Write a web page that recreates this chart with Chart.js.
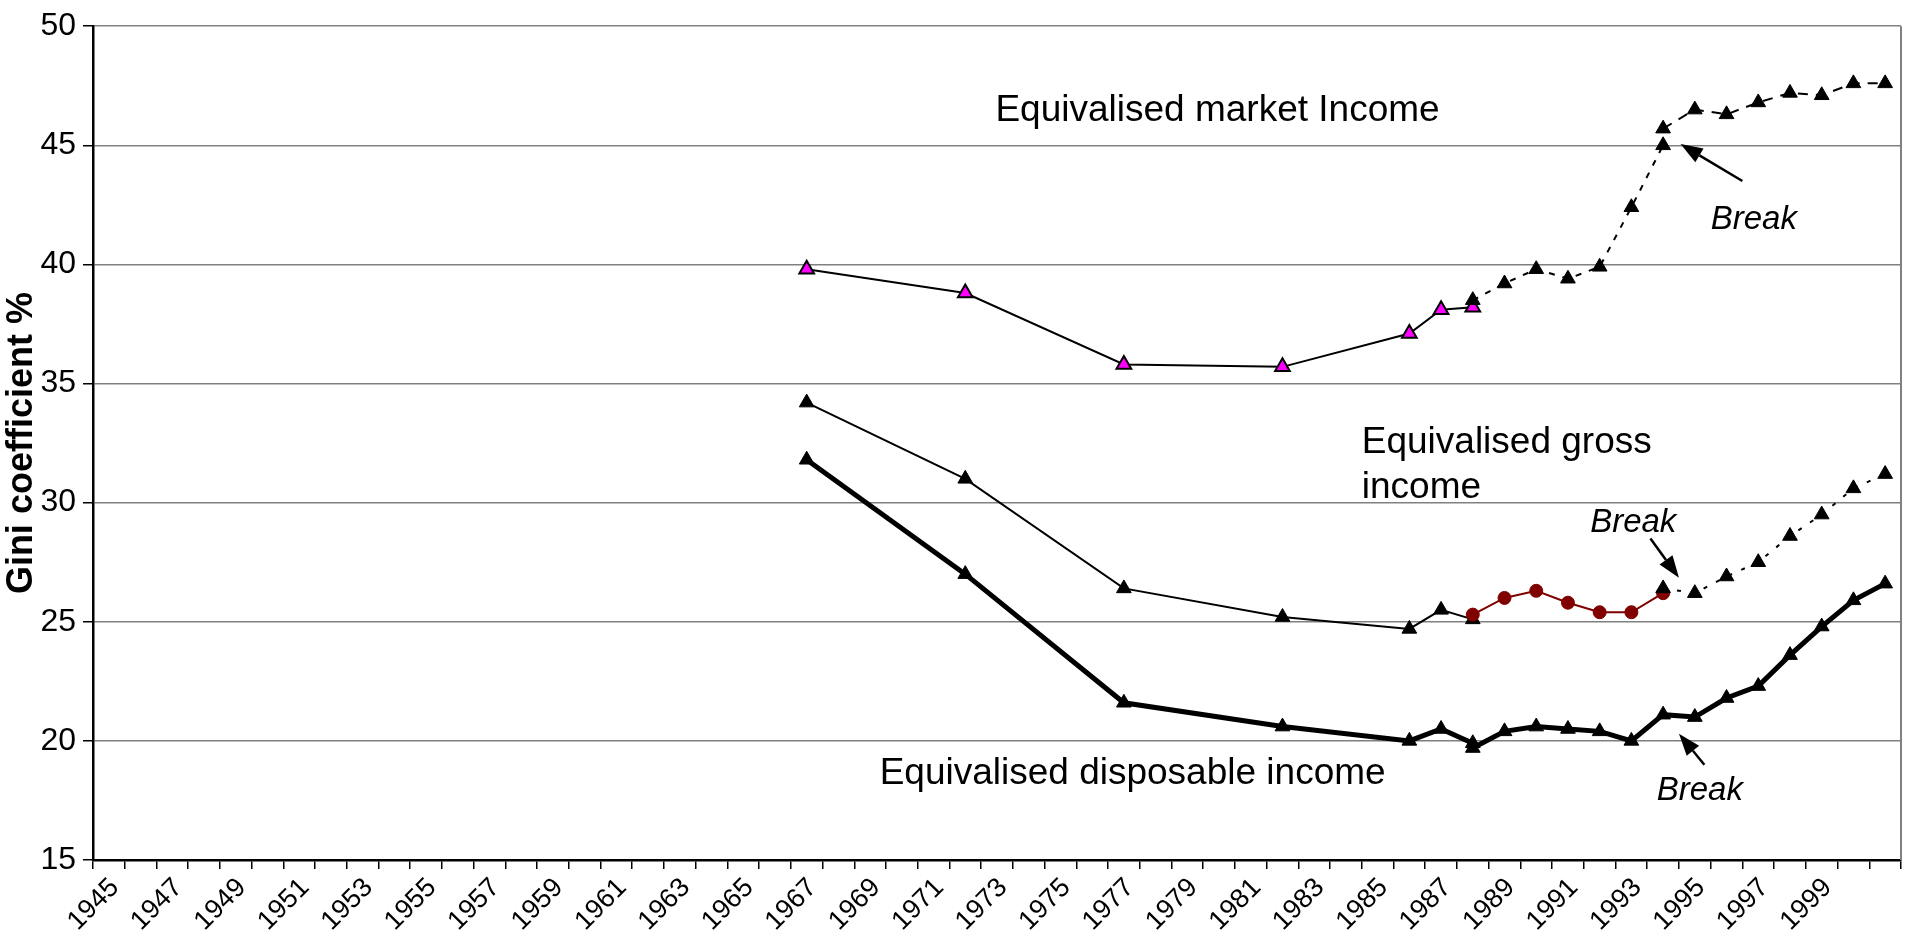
<!DOCTYPE html>
<html>
<head>
<meta charset="utf-8">
<script src="https://cdn.jsdelivr.net/npm/chart.js@4.4.1/dist/chart.umd.min.js"></script>
<style>
  html, body { margin: 0; padding: 0; background: #ffffff; }
  #wrap { width: 1912px; height: 936px; }
</style>
</head>
<body>
<div id="wrap"><canvas id="c" width="1912" height="936"></canvas></div>
<script>
// ---------------- DATA ----------------
const years = ['1945','1946','1947','1948','1949','1950','1951','1952','1953','1954','1955','1956','1957','1958','1959','1960','1961','1962','1963','1964','1965','1966','1967','1968','1969','1970','1971','1972','1973','1974','1975','1976','1977','1978','1979','1980','1981','1982','1983','1984','1985','1986','1987','1988','1989','1990','1991','1992','1993','1994','1995','1996','1997','1998','1999','2000','2001'];
const xTickLabels = ['1945','1947','1949','1951','1953','1955','1957','1959','1961','1963','1965','1967','1969','1971','1973','1975','1977','1979','1981','1983','1985','1987','1989','1991','1993','1995','1997','1999'];
const yTicks = [15, 20, 25, 30, 35, 40, 45, 50];

// Equivalised market income
const marketSurveyYears  = [1967, 1972, 1977, 1982, 1986, 1987, 1988];
const marketSurveyValues = [39.8, 38.8, 35.8, 35.7, 37.1, 38.1, 38.2];
const marketMidYears     = [1988, 1989, 1990, 1991, 1992, 1993, 1994];
const marketMidValues    = [38.5, 39.2, 39.8, 39.4, 39.9, 42.4, 45.0];
const marketLateYears    = [1994, 1995, 1996, 1997, 1998, 1999, 2000, 2001];
const marketLateValues   = [45.7, 46.5, 46.3, 46.8, 47.2, 47.1, 47.6, 47.6];

// Equivalised gross income
const grossSurveyYears  = [1967, 1972, 1977, 1982, 1986, 1987, 1988];
const grossSurveyValues = [34.2, 31.0, 26.4, 25.2, 24.7, 25.5, 25.1];
const grossMidYears     = [1988, 1989, 1990, 1991, 1992, 1993, 1994];
const grossMidValues    = [25.3, 26.0, 26.3, 25.8, 25.4, 25.4, 26.2];
const grossLateYears    = [1994, 1995, 1996, 1997, 1998, 1999, 2000, 2001];
const grossLateValues   = [26.4, 26.2, 26.9, 27.5, 28.6, 29.5, 30.6, 31.2];

// Equivalised disposable income
const dispSurveyYears  = [1967, 1972, 1977, 1982, 1986, 1987, 1988];
const dispSurveyValues = [31.8, 27.0, 21.6, 20.6, 20.0, 20.5, 19.9];
const dispLateYears    = [1988, 1989, 1990, 1991, 1992, 1993, 1994, 1995, 1996, 1997, 1998, 1999, 2000, 2001];
const dispLateValues   = [19.7, 20.4, 20.6, 20.5, 20.4, 20.0, 21.1, 21.0, 21.8, 22.3, 23.6, 24.8, 25.9, 26.6];

const seriesLabels = ['Equivalised market Income', 'Equivalised gross', 'income', 'Equivalised disposable income', 'Break'];
const yAxisTitle = 'Gini coefficient %';

// ---------------- CHART ----------------
function pts(ys, vs) { return ys.map((y, i) => ({ x: String(y), y: vs[i] })); }

const FONT = "'Liberation Sans', Arial, Helvetica, sans-serif";

function blackTri(data, width, dash) {
  return {
    data: data, borderColor: '#000', borderWidth: width, borderDash: dash || [],
    pointStyle: 'triangle', pointRadius: 8.5, pointBackgroundColor: '#000',
    pointBorderColor: '#000', pointBorderWidth: 1, tension: 0, fill: false
  };
}

const datasets = [
  blackTri(pts(dispLateYears, dispLateValues), 5),
  blackTri(pts(dispSurveyYears, dispSurveyValues), 5),
  blackTri(pts(grossLateYears, grossLateValues), 2, [4, 10]),
  {
    data: pts(grossMidYears, grossMidValues), borderColor: '#800000', borderWidth: 2,
    pointStyle: 'circle', pointRadius: 6.5, pointBackgroundColor: '#800000',
    pointBorderColor: '#800000', pointBorderWidth: 1, tension: 0, fill: false
  },
  blackTri(pts(grossSurveyYears, grossSurveyValues), 2),
  blackTri(pts(marketLateYears, marketLateValues), 2, [10, 8]),
  blackTri(pts(marketMidYears, marketMidValues), 2, [6, 8]),
  {
    data: pts(marketSurveyYears, marketSurveyValues), borderColor: '#000', borderWidth: 2,
    pointStyle: 'triangle', pointRadius: 8.5, pointBackgroundColor: '#FF00FF',
    pointBorderColor: '#000', pointBorderWidth: 2, tension: 0, fill: false
  }
];

const annotationPlugin = {
  id: 'annotations',
  afterDatasetsDraw(chart) {
    const ctx = chart.ctx;
    const xs = chart.scales.x, ys = chart.scales.y;
    const px = (year) => xs.getPixelForValue(year - 1945);
    const py = (v) => ys.getPixelForValue(v);
    const area = chart.chartArea;
    ctx.save();
    ctx.strokeStyle = '#808080';
    ctx.lineWidth = 2;
    ctx.beginPath();
    ctx.moveTo(area.right, area.top);
    ctx.lineTo(area.right, area.bottom);
    ctx.stroke();

    ctx.fillStyle = '#000';
    ctx.textAlign = 'left';
    ctx.textBaseline = 'alphabetic';
    ctx.font = '37px ' + FONT;
    ctx.fillText(seriesLabels[0], px(1972.95), py(46.0));
    ctx.fillText(seriesLabels[1], px(1984.5), py(32.1));
    ctx.fillText(seriesLabels[2], px(1984.5), py(30.2));
    ctx.fillText(seriesLabels[3], px(1969.3), py(18.2));

    ctx.font = 'italic 33px ' + FONT;
    ctx.fillText(seriesLabels[4], px(1995.5), py(41.5));
    ctx.fillText(seriesLabels[4], px(1991.7), py(28.75));
    ctx.fillText(seriesLabels[4], px(1993.8), py(17.5));

    function arrow(x1, y1, x2, y2) {
      const ang = Math.atan2(y2 - y1, x2 - x1);
      const L = 22, W = 8;
      const bx = x2 - L * Math.cos(ang), by = y2 - L * Math.sin(ang);
      ctx.strokeStyle = '#000';
      ctx.lineWidth = 2.5;
      ctx.beginPath();
      ctx.moveTo(x1, y1);
      ctx.lineTo(bx, by);
      ctx.stroke();
      ctx.beginPath();
      ctx.moveTo(x2, y2);
      ctx.lineTo(bx + W * Math.sin(ang), by - W * Math.cos(ang));
      ctx.lineTo(bx - W * Math.sin(ang), by + W * Math.cos(ang));
      ctx.closePath();
      ctx.fill();
    }
    arrow(px(1996.5), py(43.5), px(1994.55), py(45.05));
    arrow(px(1993.6), py(28.5), px(1994.5), py(26.85));
    arrow(px(1995.3), py(19.0), px(1994.5), py(20.3));
    ctx.restore();
  }
};

new Chart(document.getElementById('c'), {
  type: 'line',
  data: { labels: years, datasets: datasets },
  options: {
    responsive: false,
    animation: false,
    devicePixelRatio: 1,
    layout: { padding: { top: 22, right: 11, left: 0, bottom: 0 } },
    plugins: { legend: { display: false }, tooltip: { enabled: false } },
    scales: {
      x: {
        type: 'category',
        offset: true,
        grid: { display: true, drawOnChartArea: false, drawTicks: true, tickLength: 9, offset: true, color: '#000', tickColor: '#000', lineWidth: 1.5 },
        border: { display: true, color: '#000', width: 2.5 },
        ticks: {
          autoSkip: false, minRotation: 45, maxRotation: 45, padding: 3, labelOffset: 6,
          color: '#000', font: { family: FONT, size: 27 },
          callback: function (val, idx) { const l = years[idx]; return xTickLabels.includes(l) ? l : ''; }
        },
        afterFit: function (scale) { scale.height = 76; }
      },
      y: {
        min: 15, max: 50,
        afterBuildTicks: function (scale) { scale.ticks = yTicks.map(v => ({ value: v })); },
        grid: { color: '#808080', lineWidth: 1.5, drawTicks: true, tickLength: 10, tickColor: '#000' },
        border: { display: true, color: '#000', width: 2.5 },
        ticks: { padding: 7, color: '#000', font: { family: FONT, size: 32 } },
        title: { display: true, text: yAxisTitle, color: '#000', font: { family: FONT, size: 36, weight: 'bold' }, padding: { top: 0, bottom: 0 } },
        afterFit: function (scale) { scale.width = 93; }
      }
    }
  },
  plugins: [annotationPlugin]
});
</script>
</body>
</html>
